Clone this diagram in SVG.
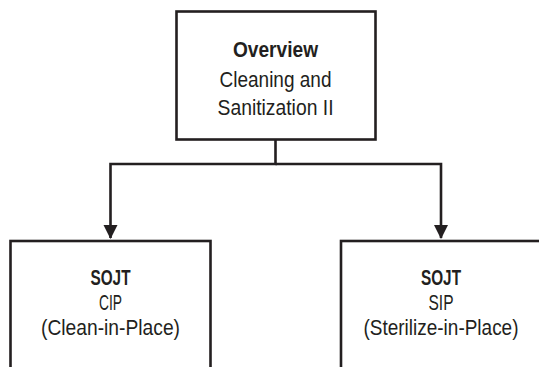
<svg xmlns="http://www.w3.org/2000/svg" width="539" height="367" viewBox="0 0 539 367">
  <style>
    .box { fill: #ffffff; stroke: #231f20; stroke-width: 2.6; }
    .conn { fill: none; stroke: #231f20; stroke-width: 2.6; }
    text { font-family: "Liberation Sans", Arial, sans-serif; font-size: 22px; fill: #231f20; text-anchor: middle; }
    .b { font-weight: bold; }
  </style>
  <defs>
    <marker id="arrow" markerUnits="userSpaceOnUse" markerWidth="14" markerHeight="18" refX="13" refY="7" orient="auto" viewBox="0 0 14 14">
      <path d="M0,0 L14,7 L0,14 Z" fill="#231f20"/>
    </marker>
  </defs>
  <rect width="539" height="367" fill="#ffffff"/>
  <g id="connectors">
    <path class="conn" d="M275.5,139 V164 H110.5 V238" marker-end="url(#arrow)"/>
    <path class="conn" d="M275.5,164 H441 V238" marker-end="url(#arrow)"/>
  </g>
  <g id="overview">
    <rect class="box" x="176.5" y="11.5" width="199" height="128"/>
    <text x="275.5" y="57" class="b" textLength="85" lengthAdjust="spacingAndGlyphs">Overview</text>
    <text x="275.5" y="87" textLength="112" lengthAdjust="spacingAndGlyphs">Cleaning and</text>
    <text x="275.5" y="115" textLength="116" lengthAdjust="spacingAndGlyphs">Sanitization II</text>
  </g>
  <g id="cip">
    <rect class="box" x="10.5" y="241" width="200" height="140"/>
    <text x="110.5" y="285" class="b" textLength="40" lengthAdjust="spacingAndGlyphs">SOJT</text>
    <text x="110.5" y="310" textLength="23" lengthAdjust="spacingAndGlyphs">CIP</text>
    <text x="110.5" y="335" textLength="139" lengthAdjust="spacingAndGlyphs">(Clean-in-Place)</text>
  </g>
  <g id="sip">
    <rect class="box" x="341" y="241" width="200" height="140"/>
    <text x="441" y="285" class="b" textLength="40" lengthAdjust="spacingAndGlyphs">SOJT</text>
    <text x="441" y="310" textLength="25" lengthAdjust="spacingAndGlyphs">SIP</text>
    <text x="441" y="335" textLength="155" lengthAdjust="spacingAndGlyphs">(Sterilize-in-Place)</text>
  </g>
</svg>
